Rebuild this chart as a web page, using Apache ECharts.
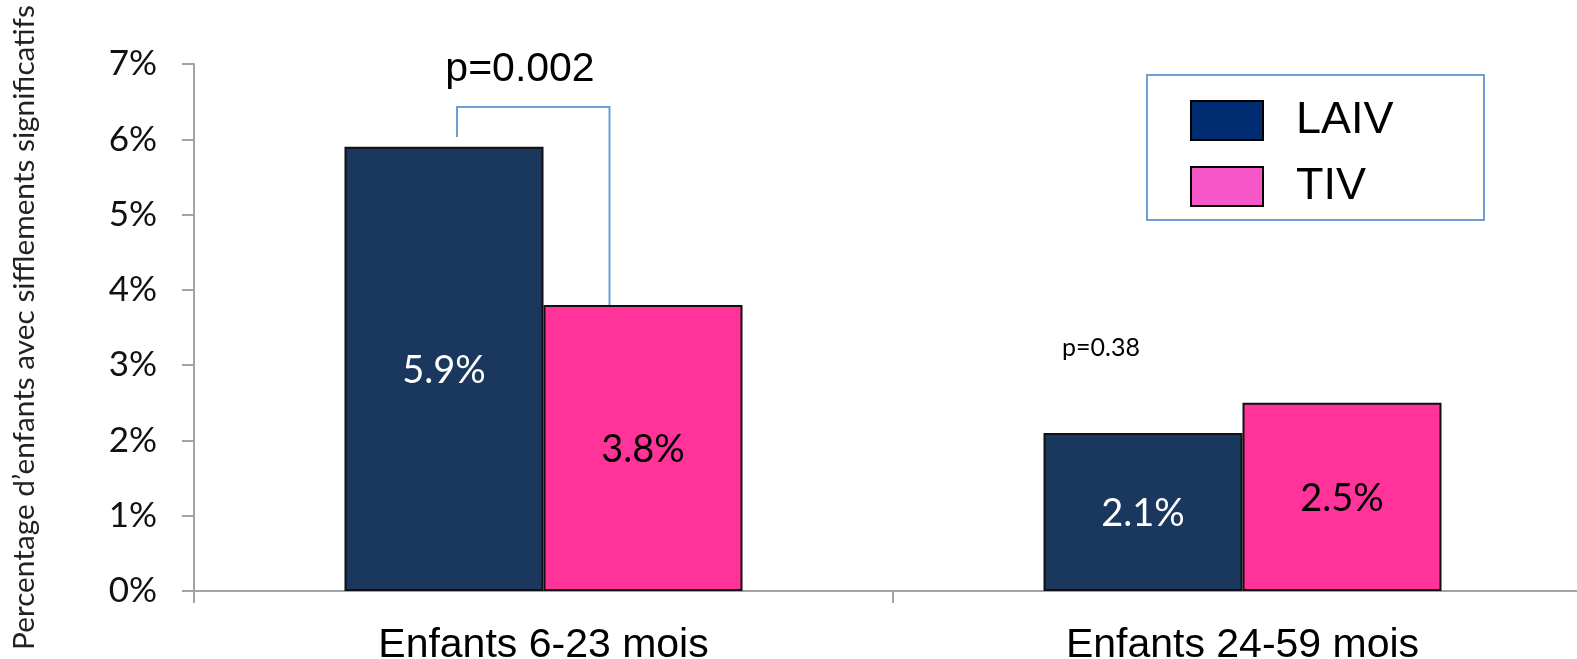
<!DOCTYPE html>
<html>
<head>
<meta charset="utf-8">
<script src="https://cdn.jsdelivr.net/npm/echarts@6/dist/echarts.min.js"></script>
<style>
  html, body { margin: 0; padding: 0; background: #fff; }
  #chart { width: 1577px; height: 659px; }
</style>
</head>
<body>
<div id="chart"></div>
<script>
// Wheezing rates by age group, LAIV vs TIV
const categories = ['Enfants 6-23 mois', 'Enfants 24-59 mois'];
const laivValues = [5.9, 2.1];
const tivValues = [3.8, 2.5];
const seriesNames = ['LAIV', 'TIV'];
const yTicks = [0, 1, 2, 3, 4, 5, 6, 7];
const pValues = ['p=0.002', 'p=0.38'];
const yAxisTitle = 'Percentage d\u2019enfants avec sifflements significatifs';

const calibriLike = 'Lato, "Open Sans", sans-serif';
const arialLike = '"Liberation Sans", Arial, sans-serif';

const chart = echarts.init(document.getElementById('chart'), null, { renderer: 'canvas' });

const axisGray = '#a3a3a3';
const bracketBlue = '#6a9fd4';

chart.setOption({
  animation: false,
  backgroundColor: '#ffffff',
  grid: {
    left: 194, top: 64, width: 1398, height: 527,
    containLabel: false,
    outerBoundsMode: 'none'
  },
  legend: {
    orient: 'vertical',
    left: 1190,
    top: 98,
    padding: 0,
    itemWidth: 72,
    itemHeight: 39,
    itemGap: 21,
    icon: 'rect',
    textStyle: { fontFamily: arialLike, fontSize: 45, color: '#000', padding: [0, 0, 0, 28] },
    data: [
      { name: seriesNames[0], itemStyle: { color: '#002d72', borderColor: '#000', borderWidth: 2 } },
      { name: seriesNames[1], itemStyle: { color: '#f757c8', borderColor: '#000', borderWidth: 2 } }
    ]
  },
  xAxis: {
    type: 'category',
    data: categories,
    axisLine: { lineStyle: { color: axisGray, width: 2 } },
    axisTick: { show: true, length: 12, lineStyle: { color: axisGray, width: 2 } },
    axisLabel: {
      fontFamily: arialLike, fontSize: 41, lineHeight: 41, color: '#000',
      margin: 34, interval: 0
    }
  },
  yAxis: {
    type: 'value',
    min: yTicks[0],
    max: yTicks[yTicks.length - 1],
    interval: 1,
    name: yAxisTitle,
    nameLocation: 'middle',
    nameRotate: 90,
    nameGap: 155,
    nameTextStyle: { fontFamily: calibriLike, fontSize: 29.8, color: '#222' },
    splitLine: { show: false },
    axisLine: { show: true, lineStyle: { color: axisGray, width: 2 } },
    axisTick: { show: true, length: 12, lineStyle: { color: axisGray, width: 2 } },
    axisLabel: { formatter: '{value}%', fontFamily: calibriLike, fontSize: 35, color: '#111', margin: 37 }
  },
  series: [
    {
      name: seriesNames[0],
      type: 'bar',
      data: laivValues,
      barWidth: 199,
      barGap: '0%',
      itemStyle: { color: '#1a375e', borderColor: '#111', borderWidth: 2 },
      label: {
        show: true, position: 'inside', offset: [0, 2],
        formatter: p => p.value.toFixed(1) + '%',
        fontFamily: calibriLike, fontSize: 38, color: '#fff'
      }
    },
    {
      name: seriesNames[1],
      type: 'bar',
      data: tivValues,
      barWidth: 199,
      barGap: '0%',
      itemStyle: { color: '#ff3399', borderColor: '#111', borderWidth: 2 },
      label: {
        show: true, position: 'inside', offset: [0, 2],
        formatter: p => p.value.toFixed(1) + '%',
        fontFamily: calibriLike, fontSize: 38, color: '#000'
      }
    }
  ]
});

// Annotations placed from data coordinates
function px(catIdx, value) {
  return chart.convertToPixel({ gridIndex: 0 }, [catIdx, value]);
}
const bracketTop = px(0, 6.43);
const bracketLeftEnd = px(0, 6.03);
const bracketRightEnd = px(0, tivValues[0]);
const leftX = bracketTop[0] - 86.5;
const rightX = bracketTop[0] + 66;
const pText1 = px(0, 6.92);
const pText2 = px(1, 3.23);

chart.setOption({
  graphic: [
    {
      type: 'rect',
      shape: { x: 1147, y: 75, width: 337, height: 145 },
      style: { fill: 'none', stroke: bracketBlue, lineWidth: 2 },
      silent: true
    },
    {
      type: 'polyline',
      shape: { points: [[leftX, bracketLeftEnd[1]], [leftX, bracketTop[1]], [rightX, bracketTop[1]], [rightX, bracketRightEnd[1]]] },
      style: { fill: 'none', stroke: bracketBlue, lineWidth: 2 },
      silent: true
    },
    {
      type: 'text',
      x: pText1[0] - 23.5,
      y: pText1[1],
      style: { text: pValues[0], fontFamily: arialLike, fontSize: 41, fill: '#000', align: 'center', verticalAlign: 'middle' }
    },
    {
      type: 'text',
      x: pText2[0] - 141.5,
      y: pText2[1],
      style: { text: pValues[1], fontFamily: calibriLike, fontSize: 25, fill: '#000', align: 'center', verticalAlign: 'middle' }
    }
  ]
});
</script>
</body>
</html>
